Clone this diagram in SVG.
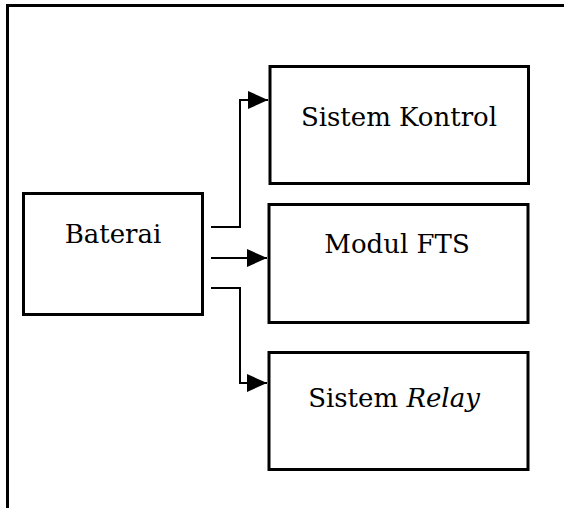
<svg xmlns="http://www.w3.org/2000/svg" width="564" height="508" viewBox="0 0 564 508">
<defs>
<marker id="arr" viewBox="0 0 20 20" refX="20" refY="10" markerWidth="20" markerHeight="20" markerUnits="userSpaceOnUse" orient="auto">
<path d="M0,1 L20,10 L0,19 Z" fill="#000"/>
</marker>
<style>
.box{fill:#fff;stroke:#000;stroke-width:3}
.lbl{font-family:"DejaVu Serif","Liberation Serif",serif;font-size:26px;fill:#000;text-anchor:middle}
.conn{fill:none;stroke:#000;stroke-width:2}
</style>
</defs>
<rect width="564" height="508" fill="#fff"/>
<path d="M7.5,508 V5.5 H564" fill="none" stroke="#000" stroke-width="3"/>
<g id="baterai">
<rect class="box" x="23.5" y="193.5" width="179" height="121"/>
<text class="lbl" x="113" y="243">Baterai</text>
</g>
<g id="sistem-kontrol">
<rect class="box" x="270" y="66.5" width="258.5" height="117"/>
<text class="lbl" x="399" y="126">Sistem Kontrol</text>
</g>
<g id="modul-fts">
<rect class="box" x="269" y="204.5" width="259" height="118"/>
<text class="lbl" x="397" y="253">Modul FTS</text>
</g>
<g id="sistem-relay">
<rect class="box" x="269" y="352.5" width="259" height="117"/>
<text class="lbl" x="394" y="407">Sistem <tspan font-style="italic">Relay</tspan></text>
</g>
<g id="connectors">
<path class="conn" d="M211,227 H240 V100 H268" marker-end="url(#arr)"/>
<path class="conn" d="M211,258 H267" marker-end="url(#arr)"/>
<path class="conn" d="M211,288 H240 V383 H267" marker-end="url(#arr)"/>
</g>
</svg>
